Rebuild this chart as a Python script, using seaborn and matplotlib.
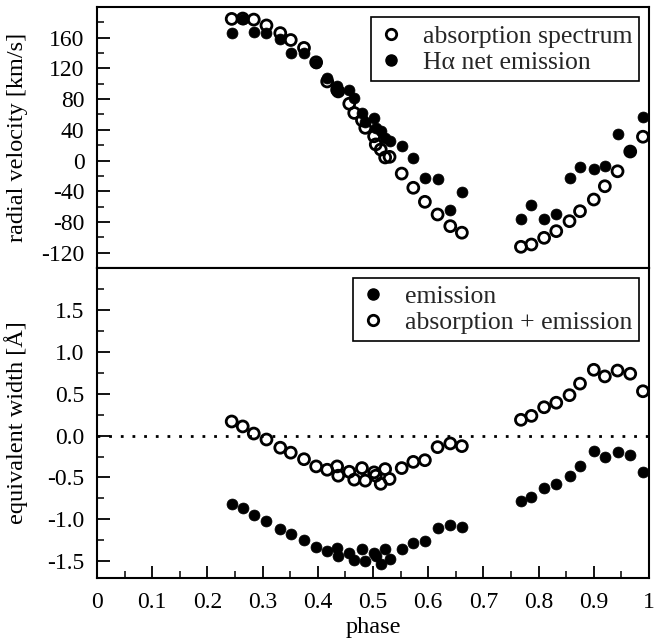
import numpy as np
import pandas as pd
import matplotlib
matplotlib.use("Agg")
import matplotlib.pyplot as plt
from matplotlib.ticker import MultipleLocator, FuncFormatter
from matplotlib.lines import Line2D
import seaborn as sns

# ---------------- data ----------------
phase = [0.244, 0.264, 0.284, 0.307, 0.332, 0.351, 0.375, 0.397, 0.417, 0.435,
         0.437, 0.457, 0.466, 0.480, 0.486, 0.502, 0.505, 0.514, 0.522, 0.530,
         0.552, 0.573, 0.594, 0.617, 0.640, 0.661,
         0.768, 0.787, 0.810, 0.832, 0.856, 0.875, 0.900, 0.920, 0.943, 0.966, 0.989]

rv_absorption = [184.5, 185, 183.6, 176, 166, 157, 146.7, 128, 103, 92,
                 90, 74, 62, 52.5, 42.6, 31.6, 21, 14.3, 4, 4.8,
                 -17, -35.5, -53.8, -70.3, -85.5, -94,
                 -112.4, -109.4, -100.7, -92, -79, -66, -50.8, -33.5, -14, 11.7, 31]

rv_halpha = [166.3, 185, 167, 166, 158.5, 140.2, 140.2, 127, 108, 97.7,
             92.4, 91.5, 81.6, 62, 50, 55.6, 42.6, 38.2, 29.5, 25,
             18.6, 3.5, -22.5, -24.7, -63.8, -41.3,
             -76.8, -57.3, -76.8, -70.3, -22.5, -8.2, -10.8, -7.4, 35.2, 12.1, 57.3]

ew_emission = [-0.812, -0.862, -0.949, -1.015, -1.114, -1.173, -1.244, -1.333, -1.373, -1.341,
               -1.439, -1.400, -1.491, -1.353, -1.498, -1.400, -1.439, -1.529, -1.353, -1.479,
               -1.353, -1.282, -1.262, -1.106, -1.067, -1.086,
               -0.785, -0.733, -0.627, -0.576, -0.479, -0.361, -0.185, -0.251, -0.192, -0.235, -0.439]

ew_abs_em = [0.168, 0.109, 0.024, -0.047, -0.145, -0.204, -0.282, -0.368, -0.408, -0.368,
             -0.479, -0.432, -0.526, -0.388, -0.538, -0.439, -0.479, -0.576, -0.400, -0.518,
             -0.388, -0.314, -0.294, -0.138, -0.094, -0.126,
             0.188, 0.235, 0.338, 0.392, 0.482, 0.620, 0.785, 0.706, 0.776, 0.738, 0.529]

df = pd.DataFrame({"phase": phase, "rv_abs": rv_absorption, "rv_ha": rv_halpha,
                   "ew_em": ew_emission, "ew_ae": ew_abs_em})

# ---------------- style ----------------
sns.set_theme(style="ticks")
plt.rcParams["font.family"] = ["Liberation Serif", "DejaVu Serif"]
plt.rcParams["axes.unicode_minus"] = False
plt.rcParams["axes.linewidth"] = 1.5
FS = 17.5
TFS = 17
LFS = 18.5

fig = plt.figure(figsize=(6.62, 6.42), dpi=100)
L, R = 97 / 662, 649 / 662
y_top, y_mid, y_bot = 1 - 7 / 642, 1 - 268 / 642, 1 - 578 / 642
ax1 = fig.add_axes([L, y_mid, R - L, y_top - y_mid])
ax2 = fig.add_axes([L, y_bot, R - L, y_mid - y_bot], sharex=ax1)

S = 62
LW = 2.0

# top panel
sns.scatterplot(data=df, x="phase", y="rv_abs", ax=ax1, marker="o", s=S,
                facecolor="none", edgecolor="black", linewidth=LW, zorder=3)
sns.scatterplot(data=df, x="phase", y="rv_ha", ax=ax1, marker="o", s=S,
                color="black", edgecolor="black", linewidth=0.5, zorder=4)

# bottom panel
ax2.axhline(0, color="black", linestyle=(0, (1, 3.2)), linewidth=2, zorder=1)
sns.scatterplot(data=df, x="phase", y="ew_em", ax=ax2, marker="o", s=S,
                color="black", edgecolor="black", linewidth=0.5, zorder=4)
sns.scatterplot(data=df, x="phase", y="ew_ae", ax=ax2, marker="o", s=S,
                facecolor="none", edgecolor="black", linewidth=LW, zorder=3)

ax1.set_xlim(0, 1)
ax1.set_ylim(-140, 200)
ax2.set_ylim(-1.7, 2.0)

ax1.yaxis.set_minor_locator(MultipleLocator(20))
ax2.yaxis.set_minor_locator(MultipleLocator(0.25))
ax2.xaxis.set_major_locator(MultipleLocator(0.1))
ax2.xaxis.set_minor_locator(MultipleLocator(0.05))

ax1.set_yticks([-120, -80, -40, 0, 40, 80, 120, 160])
ax2.set_yticks([-1.5, -1.0, -0.5, 0.0, 0.5, 1.0, 1.5])
ax2.yaxis.set_major_formatter(FuncFormatter(lambda v, p: f"{v:.1f}"))
ax2.xaxis.set_major_formatter(FuncFormatter(
    lambda v, p: "0" if abs(v) < 1e-9 else ("1" if abs(v - 1) < 1e-9 else f"{v:.1f}")))

for ax in (ax1, ax2):
    ax.tick_params(axis="both", which="major", direction="in", length=9, width=1.3,
                   labelsize=TFS, colors="black", top=False, right=False, pad=9)
    ax.tick_params(axis="both", which="minor", direction="in", length=5, width=1.3,
                   top=False, right=False)
    for sp in ax.spines.values():
        sp.set_visible(True)
        sp.set_color("black")
        sp.set_linewidth(1.5)
    ax.set_facecolor("white")

ax1.tick_params(axis="x", which="both", bottom=False, labelbottom=False)
ax2.tick_params(axis="x", which="major", pad=10)

ax1.set_xlabel("")
ax1.set_ylabel("radial velocity [km/s]", fontsize=FS, color="black")
ax2.set_ylabel("equivalent width [Å]", fontsize=FS, color="black")
ax2.set_xlabel("phase", fontsize=FS, color="black", labelpad=3)
ax1.yaxis.set_label_coords(-0.125, 0.5)
ax2.yaxis.set_label_coords(-0.125, 0.5)

open_h = Line2D([], [], marker="o", linestyle="none", markersize=7.5,
                markerfacecolor="none", markeredgecolor="black", markeredgewidth=LW)
fill_h = Line2D([], [], marker="o", linestyle="none", markersize=8,
                markerfacecolor="black", markeredgecolor="black")

leg_kw = dict(fontsize=LFS, frameon=True, fancybox=False, edgecolor="black",
              framealpha=1, handletextpad=0.75, borderpad=0.28, labelspacing=0.12,
              handlelength=1.0, borderaxespad=0.2)
leg1 = ax1.legend([open_h, fill_h], ["absorption spectrum", "H\u03b1 net emission"],
                  loc="upper right", bbox_to_anchor=(0.992, 0.98), **leg_kw)
leg1.get_frame().set_linewidth(1.2)
leg2 = ax2.legend([fill_h, open_h], ["emission", "absorption + emission"],
                  loc="upper right", bbox_to_anchor=(0.992, 0.985), **leg_kw)
leg2.get_frame().set_linewidth(1.2)

fig.savefig("out.png", dpi=100, facecolor="white")
